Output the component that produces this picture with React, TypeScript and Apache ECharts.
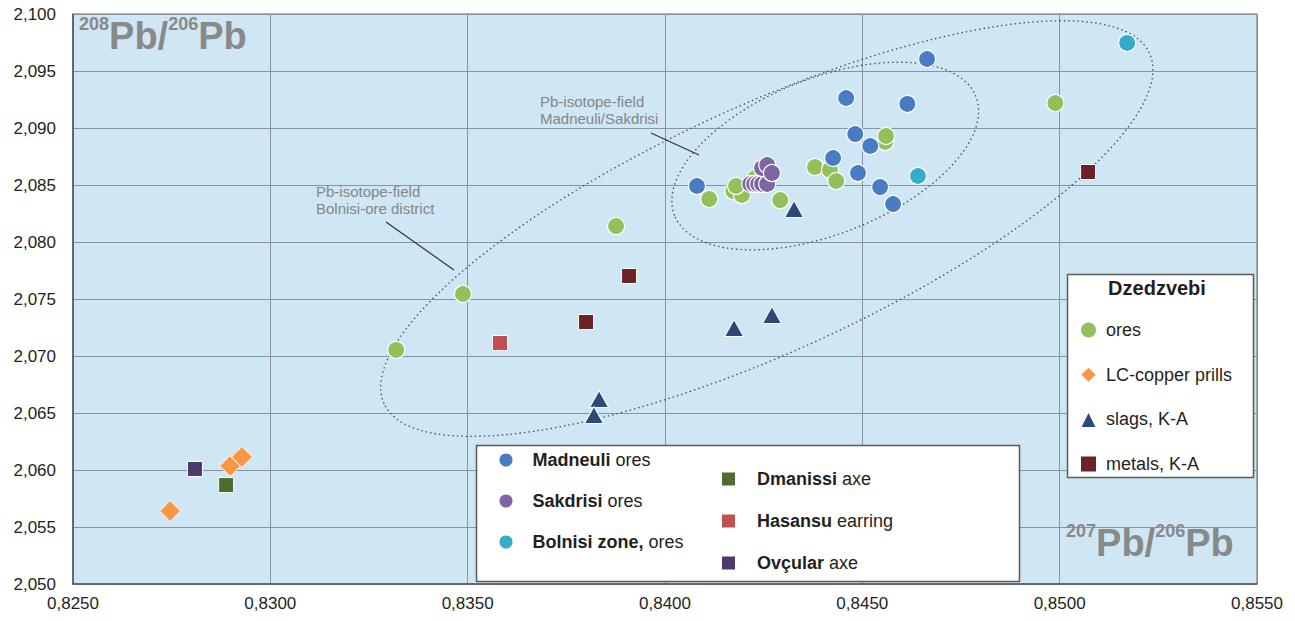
import React, { useEffect, useRef } from 'react';
import * as echarts from 'echarts';

// 207Pb/206Pb (x) and 208Pb/206Pb (y) ratios per sample group
const madneuliOres: number[][] = [
  [0.84081, 2.08491], [0.84664, 2.09605], [0.84459, 2.09263], [0.84614, 2.09211],
  [0.84482, 2.08947], [0.84426, 2.08737], [0.8452, 2.08842], [0.84489, 2.08605],
  [0.84545, 2.08482], [0.84578, 2.08333],
];
const sakdrisiOres: number[][] = [
  [0.84216, 2.08509], [0.84226, 2.08509], [0.84236, 2.08509], [0.84246, 2.08509],
  [0.84259, 2.08509], [0.84246, 2.08649], [0.84259, 2.08675], [0.84271, 2.08605],
];
const bolnisiZoneOres: number[][] = [[0.84641, 2.08579], [0.85171, 2.09746]];
const dmanissiAxe: number[][] = [[0.82888, 2.05868]];
const hasansuEarring: number[][] = [[0.83582, 2.07114]];
const ovcularAxe: number[][] = [[0.82809, 2.06009]];

// Dzedzvebi samples
const dzedzvebiOres: number[][] = [
  [0.83319, 2.07053], [0.83488, 2.07544], [0.83876, 2.0814], [0.84112, 2.08377],
  [0.84173, 2.08447], [0.84195, 2.08412], [0.8418, 2.08491], [0.84228, 2.08561],
  [0.84292, 2.08368], [0.8438, 2.08658], [0.84418, 2.08632], [0.84434, 2.08535],
  [0.84558, 2.08877], [0.8456, 2.0893], [0.84989, 2.09219],
];
const lcCopperPrills: number[][] = [[0.82746, 2.0564], [0.82898, 2.06035], [0.82928, 2.06114]];
const slagsKA: number[][] = [
  [0.84327, 2.0829], [0.84175, 2.07246], [0.84271, 2.0736], [0.83833, 2.06623], [0.8382, 2.06482],
];
const metalsKA: number[][] = [[0.83909, 2.07702], [0.838, 2.07298], [0.85072, 2.08614]];

// centres of the two Pb-isotope fields (Bolnisi-ore district, Madneuli/Sakdrisi)
const fieldCentres: number[][] = [[0.84258, 2.08118], [0.84406, 2.08754]];

const FONT = "'Liberation Sans', Arial, Helvetica, sans-serif";
const TEXT = '#231f20';
const CAPTION = '#898989';

const boldPart: Record<string, [string, string]> = {
  'Madneuli ores': ['Madneuli', ' ores'],
  'Sakdrisi ores': ['Sakdrisi', ' ores'],
  'Bolnisi zone, ores': ['Bolnisi zone,', ' ores'],
  'Dmanissi axe': ['Dmanissi', ' axe'],
  'Hasansu earring': ['Hasansu', ' earring'],
  'Ovçular axe': ['Ovçular', ' axe'],
};

export default function App() {
  const ref = useRef<HTMLDivElement>(null);

  useEffect(() => {
    if (!ref.current) return;
    const chart = echarts.init(ref.current, undefined, { renderer: 'svg' });

    const circle = (name: string, data: number[][], color: string) => ({
      name,
      type: 'scatter',
      data,
      symbol: 'circle',
      symbolSize: 17,
      itemStyle: { color, borderColor: '#ffffff', borderWidth: 1.2, opacity: 1 },
      z: 3,
    });
    const marker = (name: string, data: number[][], color: string, symbol: string, size: any) => ({
      name,
      type: 'scatter',
      data,
      symbol,
      symbolSize: size,
      itemStyle: { color, borderColor: '#ffffff', borderWidth: 1, opacity: 1 },
      z: 4,
    });

    const legendText = (gap: number) => ({
      fontSize: 18,
      fontFamily: FONT,
      color: TEXT,
      lineHeight: 20,
      rich: {
        g: { width: gap, fontSize: 18 },
        b: { fontWeight: 'bold', fontSize: 18, fontFamily: FONT, color: TEXT },
        n: { fontSize: 18, fontFamily: FONT, color: TEXT },
      },
    });
    const fmt = (name: string) => {
      const p = boldPart[name];
      return p ? `{g| }{b|${p[0]}}{n|${p[1]}}` : `{g| }{n|${name}}`;
    };

    // outline of each field: radii (px) and tilt (deg)
    const fieldShapes = [
      { rx: 421, ry: 123, rot: 24.6 },
      { rx: 162, ry: 78, rot: 21.5 },
    ];

    const caption = (text: string, x: number, y: number) => ({
      type: 'text', z: 6, x, y, silent: true,
      style: {
        text, fontFamily: FONT,
        rich: {
          s: { fontSize: 18, fontWeight: 'bold', fill: CAPTION, fontFamily: FONT, lineHeight: 25, verticalAlign: 'top' },
          p: { fontSize: 38, fontWeight: 'bold', fill: CAPTION, fontFamily: FONT, lineHeight: 42 },
        },
      },
    });

    chart.setOption({
      animation: false,
      grid: {
        left: 73, right: 38, top: 14, bottom: 37,
        show: true, backgroundColor: '#cfe7f4', borderColor: '#666', borderWidth: 1,
      },
      xAxis: {
        type: 'value', min: 0.825, max: 0.855, interval: 0.005,
        axisLine: { show: true, lineStyle: { color: '#555', width: 1.5 } },
        axisTick: { show: false },
        splitLine: { show: true, lineStyle: { color: '#87939d', width: 1 } },
        axisLabel: {
          fontSize: 17, color: TEXT, fontFamily: FONT, margin: 11,
          formatter: (v: number) => v.toFixed(4).replace('.', ','),
        },
      },
      yAxis: {
        type: 'value', min: 2.05, max: 2.1, interval: 0.005,
        axisLine: { show: true, lineStyle: { color: '#555', width: 1.5 } },
        axisTick: { show: false },
        splitLine: { show: true, lineStyle: { color: '#87939d', width: 1 } },
        axisLabel: {
          fontSize: 17, color: TEXT, fontFamily: FONT, margin: 17,
          formatter: (v: number) => v.toFixed(3).replace('.', ','),
        },
      },
      legend: [
        {
          data: ['Madneuli ores', 'Sakdrisi ores', 'Bolnisi zone, ores'],
          orient: 'vertical', left: 497.5, top: 450, padding: 0,
          itemWidth: 15, itemHeight: 15, itemGap: 21,
          formatter: fmt, textStyle: legendText(14), z: 6, selectedMode: false,
        },
        {
          data: ['Dmanissi axe', 'Hasansu earring', 'Ovçular axe'],
          orient: 'vertical', left: 720, top: 469, padding: 0,
          itemWidth: 15, itemHeight: 15, itemGap: 22,
          formatter: fmt, textStyle: legendText(16), z: 6, selectedMode: false,
        },
        {
          data: ['ores', 'LC-copper prills', 'slags, K-A', 'metals, K-A'],
          orient: 'vertical', left: 1079, top: 320, padding: 0,
          itemWidth: 17, itemHeight: 17, itemGap: 24.7,
          formatter: fmt, textStyle: legendText(4), z: 6, selectedMode: false,
        },
      ],
      graphic: [
        // legend frames
        {
          type: 'rect', z: 5, silent: true,
          shape: { x: 476.5, y: 445.5, width: 543, height: 136 },
          style: { fill: '#ffffff', stroke: '#5a5a5a', lineWidth: 1.5 },
        },
        {
          type: 'rect', z: 5, silent: true,
          shape: { x: 1067.5, y: 274.5, width: 186, height: 203 },
          style: { fill: '#ffffff', stroke: '#5a5a5a', lineWidth: 1.5 },
        },
        {
          type: 'text', z: 6, x: 1157, y: 288, silent: true,
          style: {
            text: 'Dzedzvebi', fontSize: 20, fontWeight: 'bold', fontFamily: FONT,
            fill: TEXT, align: 'center', verticalAlign: 'middle',
          },
        },
        // axis captions
        caption('{s|208}{p|Pb/}{s|206}{p|Pb}', 79, 15),
        caption('{s|207}{p|Pb/}{s|206}{p|Pb}', 1066, 522),
        // field annotations
        {
          type: 'text', z: 6, x: 540, y: 93, silent: true,
          style: {
            text: 'Pb-isotope-field\nMadneuli/Sakdrisi', fontSize: 15, lineHeight: 17,
            fontFamily: FONT, fill: '#858585',
          },
        },
        {
          type: 'line', z: 6, silent: true,
          shape: { x1: 651, y1: 133, x2: 699, y2: 155 },
          style: { stroke: '#333', lineWidth: 1.2 },
        },
        {
          type: 'text', z: 6, x: 316, y: 183, silent: true,
          style: {
            text: 'Pb-isotope-field\nBolnisi-ore district', fontSize: 15, lineHeight: 17,
            fontFamily: FONT, fill: '#858585',
          },
        },
        {
          type: 'line', z: 6, silent: true,
          shape: { x1: 386, y1: 222, x2: 454, y2: 270 },
          style: { stroke: '#333', lineWidth: 1.2 },
        },
      ],
      series: [
        {
          name: 'fields',
          type: 'custom',
          data: fieldCentres,
          z: 1,
          silent: true,
          renderItem: (params: any, api: any) => {
            const c = api.coord([api.value(0), api.value(1)]);
            const f = fieldShapes[params.dataIndex];
            return {
              type: 'ellipse',
              x: c[0], y: c[1],
              rotation: (f.rot * Math.PI) / 180,
              shape: { cx: 0, cy: 0, rx: f.rx, ry: f.ry },
              style: { fill: 'none', stroke: '#4a4a4a', lineWidth: 1.3, lineDash: [1.5, 3] },
            };
          },
        },
        circle('ores', dzedzvebiOres, '#92c05a'),
        circle('Madneuli ores', madneuliOres, '#4a7cc4'),
        circle('Sakdrisi ores', sakdrisiOres, '#8064a8'),
        circle('Bolnisi zone, ores', bolnisiZoneOres, '#33adc8'),
        marker('LC-copper prills', lcCopperPrills, '#f79646', 'diamond', 21),
        marker('slags, K-A', slagsKA, '#2b4a7a', 'triangle', [19, 17]),
        marker('metals, K-A', metalsKA, '#6d2227', 'rect', 15),
        marker('Dmanissi axe', dmanissiAxe, '#4f6d2c', 'rect', 15),
        marker('Hasansu earring', hasansuEarring, '#c0504f', 'rect', 15),
        marker('Ovçular axe', ovcularAxe, '#4b3a6b', 'rect', 15),
      ],
    });

    return () => chart.dispose();
  }, []);

  return (
    <div
      ref={ref}
      style={{ position: 'fixed', left: 0, top: 0, width: 1295, height: 621, background: '#ffffff' }}
    />
  );
}
